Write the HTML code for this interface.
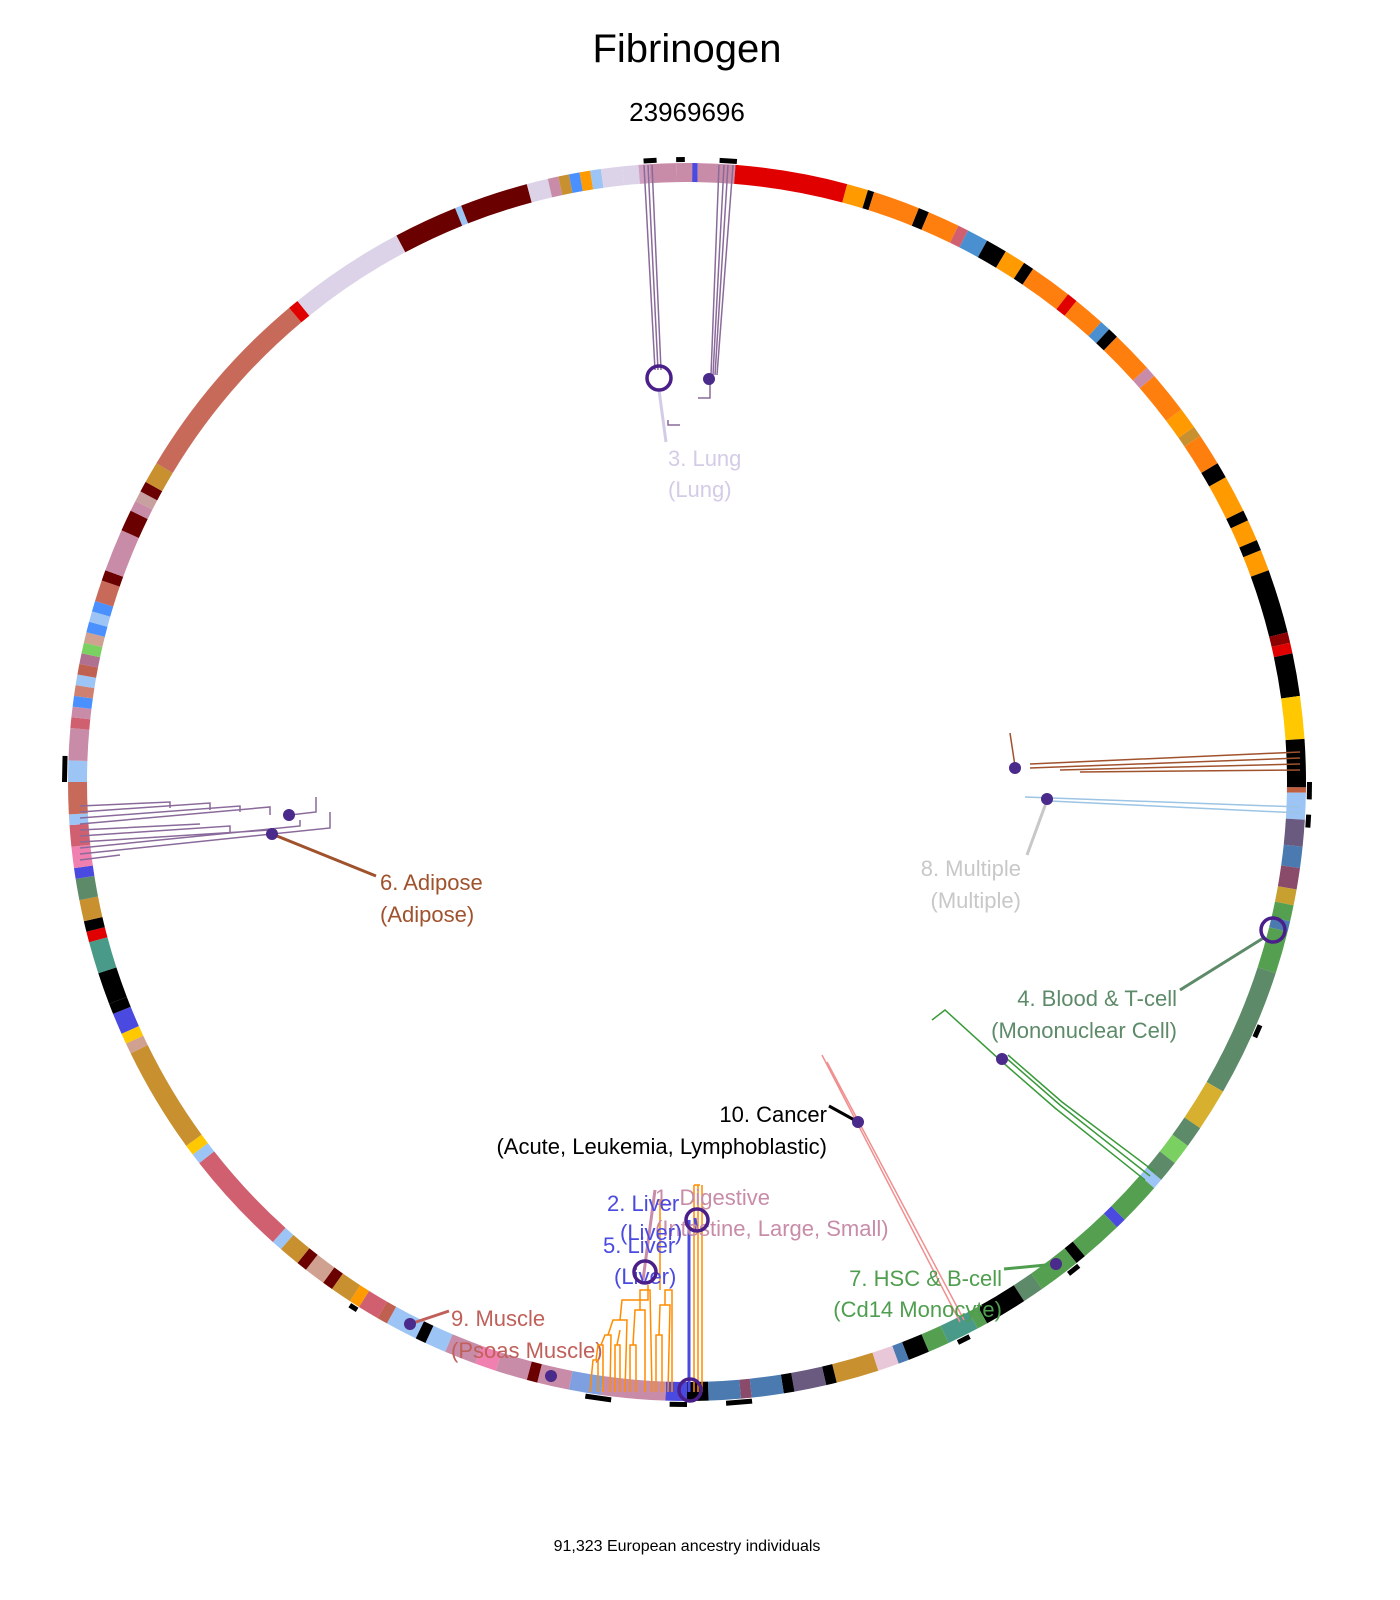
<!DOCTYPE html>
<html><head><meta charset="utf-8">
<style>
html,body{margin:0;padding:0;background:#fff;}
svg{display:block;}
text{font-family:"Liberation Sans",sans-serif;}
</style></head>
<body>
<svg id="s" width="1400" height="1600" viewBox="0 0 1400 1600" xmlns="http://www.w3.org/2000/svg">
<rect width="1400" height="1600" fill="#fff"/>
<text x="687" y="62" font-size="40" text-anchor="middle">Fibrinogen</text>
<text x="687" y="121" font-size="26" text-anchor="middle">23969696</text>
<text x="687" y="1551" font-size="16" text-anchor="middle">91,323 European ancestry individuals</text>
<g id="ring"></g>

<!-- Lung tree -->
<g fill="none" stroke="#8a6a9a" stroke-width="1.5">
<path d="M644 165 L655 370 M648 165 L658 370 M652 165 L661 370"/>
<path d="M719 165 L711 375 M724 165 L713 375 M728 165 L715 375 M733 165 L717 375 M710 380 L710 398 L698 398"/>
</g>
<line x1="659" y1="390" x2="666" y2="442" stroke="#d4cce6" stroke-width="3"/>
<path d="M668 420 L668 425 L680 425" stroke="#8a6a9a" fill="none" stroke-width="1.5"/>
<circle cx="659" cy="378" r="12" fill="none" stroke="#4a1f8a" stroke-width="3.5"/>
<circle cx="709" cy="379" r="6" fill="#4a2a8a"/>
<text x="668" y="466" font-size="22" fill="#d4cce6">3. Lung</text>
<text x="668" y="497" font-size="22" fill="#d4cce6">(Lung)</text>

<!-- Right brown -->
<g fill="none" stroke="#a0522d" stroke-width="1.5">
<path d="M1300 752 L1030 764 M1300 758 L1030 768 M1300 764 L1060 770 M1300 770 L1080 772 M1010 733 L1015 766"/>
</g>
<circle cx="1015" cy="768" r="6" fill="#4a2a8a"/>
<g fill="none" stroke="#9cc4e4" stroke-width="1.5">
<path d="M1300 807 L1025 797 M1300 813 L1050 801"/>
</g>
<line x1="1046" y1="803" x2="1027" y2="855" stroke="#c8c8c8" stroke-width="3"/>
<circle cx="1047" cy="799" r="6" fill="#4a2a8a"/>
<text x="1021" y="876" font-size="22" fill="#c8c8c8" text-anchor="end">8. Multiple</text>
<text x="1021" y="908" font-size="22" fill="#c8c8c8" text-anchor="end">(Multiple)</text>

<!-- Blood -->
<line x1="1265" y1="937" x2="1180" y2="990" stroke="#5d8a68" stroke-width="3"/>
<circle cx="1273" cy="930" r="12" fill="none" stroke="#4a1f8a" stroke-width="3.5"/>
<text x="1177" y="1006" font-size="22" fill="#5d8a68" text-anchor="end">4. Blood &amp; T-cell</text>
<text x="1177" y="1038" font-size="22" fill="#5d8a68" text-anchor="end">(Mononuclear Cell)</text>
<g fill="none" stroke="#3a9a3a" stroke-width="1.5">
<path d="M1145 1180 L1055 1108 L1000 1060 L945 1010 L932 1020 M1150 1176 L1060 1105 L1005 1057 M1155 1172 L1062 1102 L1008 1055"/>
</g>
<circle cx="1002" cy="1059" r="6" fill="#4a2a8a"/>
<g fill="none" stroke="#f09090" stroke-width="1.5">
<path d="M822 1055 L960 1322 M827 1062 L964 1320"/>
</g>
<line x1="829" y1="1106" x2="858" y2="1122" stroke="#000" stroke-width="3"/>
<circle cx="858" cy="1122" r="6" fill="#4a2a8a"/>
<text x="827" y="1122" font-size="22" text-anchor="end">10. Cancer</text>
<text x="827" y="1154" font-size="22" text-anchor="end">(Acute, Leukemia, Lymphoblastic)</text>

<!-- HSC -->
<line x1="1004" y1="1269" x2="1056" y2="1264" stroke="#4f9e4f" stroke-width="3"/>
<circle cx="1056" cy="1264" r="6" fill="#4a2a8a"/>
<text x="1002" y="1286" font-size="22" fill="#4f9e4f" text-anchor="end">7. HSC &amp; B-cell</text>
<text x="1002" y="1317" font-size="22" fill="#4f9e4f" text-anchor="end">(Cd14 Monocyte)</text>

<!-- Adipose left -->
<g fill="none" stroke="#8a6a9a" stroke-width="1.5">
<path d="M80 806 L170 802 L170 808 M80 812 L210 803 L210 810 M80 818 L240 806 L240 812 M80 824 L270 807 L270 815 M80 830 L200 824 M80 836 L230 826 L230 833 M80 842 L270 830 M80 848 L300 826 L300 820 M80 854 L330 828 L330 812 M80 860 L120 855 M290 815 L316 812 L316 797"/>
</g>
<line x1="272" y1="834" x2="376" y2="876" stroke="#a0522d" stroke-width="3"/>
<circle cx="289" cy="815" r="6" fill="#4a2a8a"/>
<circle cx="272" cy="834" r="6" fill="#4a2a8a"/>
<text x="380" y="890" font-size="22" fill="#a0522d">6. Adipose</text>
<text x="380" y="922" font-size="22" fill="#a0522d">(Adipose)</text>

<!-- Muscle -->
<line x1="410" y1="1324" x2="449" y2="1311" stroke="#c0605a" stroke-width="3"/>
<circle cx="410" cy="1324" r="6" fill="#4a2a8a"/>
<text x="451" y="1326" font-size="22" fill="#c0605a">9. Muscle</text>
<text x="451" y="1358" font-size="22" fill="#c0605a">(Psoas Muscle)</text>
<circle cx="551" cy="1376" r="6" fill="#4a2a8a"/>

<!-- Bottom orange tree -->
<g fill="none" stroke="#ff8c00" stroke-width="1.5">
<path d="M590 1392 L593 1360 L598 1360 L598 1392 M596 1360 L598 1345 L603 1345 L603 1392 M601 1345 L605 1335 L611 1335 L610 1392 M608 1335 L613 1320 L627 1320 L625 1392 M615 1392 L615 1345 L620 1345 L620 1392 M617 1345 L620 1330 M630 1392 L630 1345 L636 1345 L636 1392 M633 1345 L635 1310 L645 1310 L645 1392 M640 1310 L640 1290 L650 1290 L652 1392 M620 1320 L622 1300 L648 1300 L648 1285 M656 1392 L656 1335 L662 1335 L662 1392 M659 1335 L660 1305 L670 1305 L668 1392 M665 1305 L665 1290 L672 1290 L672 1392 M660 1290 L660 1200 L665 1200 M694 1185 L694 1392 M698 1185 L698 1392 M702 1185 L702 1392 M694 1185 L700 1185"/>
</g>
<line x1="689" y1="1220" x2="689" y2="1392" stroke="#4a4ae0" stroke-width="3"/>
<line x1="695" y1="1218" x2="697" y2="1232" stroke="#4a4ae0" stroke-width="3"/>
<line x1="655" y1="1190" x2="643" y2="1280" stroke="#c88ca8" stroke-width="3"/>
<text x="655" y="1205" font-size="22" fill="#c88ca8">1. Digestive</text>
<text x="655" y="1236" font-size="22" fill="#c88ca8">(Intestine, Large, Small)</text>
<text x="607" y="1211" font-size="22" fill="#4a4ae0">2. Liver</text>
<text x="620" y="1240" font-size="22" fill="#4a4ae0">(Liver)</text>
<text x="603" y="1253" font-size="22" fill="#4a4ae0">5. Liver</text>
<text x="614" y="1284" font-size="22" fill="#4a4ae0">(Liver)</text>
<circle cx="697" cy="1220" r="11" fill="none" stroke="#4a1f8a" stroke-width="3.5"/>
<circle cx="645" cy="1272" r="11" fill="none" stroke="#4a1f8a" stroke-width="3.5"/>
<circle cx="690" cy="1390" r="11" fill="none" stroke="#4a1f8a" stroke-width="3.5"/>
</svg>
<script>
(function(){
var cx=687,cy=782,r1=600,r2=619;
var segs=[
[-6,-4.5,"#dcd3e8"],[-4.5,-3.5,"#d0a0c0"],[-3.5,-1,"#c88ca8"],[-1,0.8,"#c88ca8"],[0.5,1,"#4a4ae0"],[1,4.5,"#c88ca8"],
[4.5,15,"#e00000"],[15,17,"#ff9a00"],[17,17.6,"#000"],[17.6,22,"#ff7f0e"],[22,23,"#000"],[23,26,"#ff7f0e"],[26,27,"#d06070"],[27,29,"#4a90d0"],
[29,31,"#000"],[31,33,"#ff9a00"],[33,34,"#000"],[34,38,"#ff7f0e"],[38,39,"#e00000"],[39,42,"#ff7f0e"],[42,43,"#4a90d0"],[43,44,"#000"],
[44,48,"#ff7f0e"],[48,49,"#c88ca8"],[49,53,"#ff7f0e"],[53,55,"#ff9a00"],[55,56,"#c8902f"],[56,59,"#ff7f0e"],[59,60.5,"#000"],[60.5,64,"#ff9a00"],
[64,65,"#000"],[65,67,"#ff9a00"],[67,68,"#000"],[68,70,"#ff9a00"],[70,76,"#000"],[76,77,"#8b0000"],[77,78,"#e00000"],[78,82,"#000"],
[82,86,"#ffc800"],[86,90.5,"#000"],[90.5,91,"#c06040"],[91,93.5,"#9cc4f4"],[93.5,96,"#6a5a80"],[96,98,"#4a7ab0"],[98,100,"#8a4a6a"],
[100,101.5,"#c8a030"],[101.5,103,"#55a050"],[103,104,"#4a7ab0"],[104,108,"#55a050"],[108,120,"#5d8a68"],[120,124,"#d8b030"],
[124,126,"#5d8a68"],[126,128,"#7ad060"],[128,130,"#5d8a68"],[130,131,"#9cc4f4"],[131,135,"#55a050"],[135,136,"#4a4ae0"],[136,140,"#55a050"],
[140,141,"#000"],[141,145,"#55a050"],[145,147,"#5d8a68"],[147,151,"#000"],[151,152,"#55a050"],[152,155,"#4a9a8a"],[155,157,"#55a050"],[157,159,"#000"],
[159,160,"#4a7ab0"],[160,162,"#e8c8d8"],[162,166,"#c8902f"],[166,167,"#000"],[167,170,"#6a5a80"],[170,171,"#000"],[171,174,"#4a7ab0"],[174,175,"#8a4a6a"],
[175,178,"#4a7ab0"],[178,180,"#000"],[180,182,"#4a4ae0"],[182,188,"#c88ca8"],[188,191,"#7fa0e0"],[191,194,"#c88ca8"],[194,195,"#6b0000"],[195,198,"#c88ca8"],
[198,200,"#f080b0"],[200,203,"#c88ca8"],[203,205,"#9cc4f4"],[205,206,"#000"],[206,209,"#9cc4f4"],[209,210,"#c06050"],[210,212,"#d06070"],
[212,213,"#ff9a00"],[213,215,"#c8902f"],[215,216,"#6b0000"],[216,218,"#d0a090"],[218,219,"#6b0000"],[219,221,"#c8902f"],[221,222,"#9cc4f4"],
[222,232,"#d06070"],[232,233,"#9cc4f4"],[233,234,"#ffc800"],[234,244,"#c8902f"],[244,245,"#d0a090"],[245,246,"#ffc800"],[246,248,"#4a4ae0"],[248,249,"#000"],
[249,252,"#000"],[252,255,"#4a9a8a"],[255,256,"#e00000"],[256,257,"#000"],[257,259,"#c8902f"],[259,261,"#5d8a68"],[261,262,"#4a4ae0"],[262,264,"#f080b0"],
[264,266,"#d06070"],[266,267,"#9cc4f4"],[267,270,"#c86a5a"],[270,272,"#9cc4f4"],[272,275,"#c88ca8"],[275,276,"#d06070"],[276,277,"#c88ca8"],
[277,278,"#4a90ff"],[278,279,"#d08070"],[279,280,"#9cc4f4"],[280,281,"#c06050"],[281,282,"#b07090"],[282,283,"#7ad060"],[283,284,"#d0a090"],
[284,285,"#4a90ff"],[285,286,"#9cc4f4"],[286,287,"#4a90ff"],[287,289,"#c86a5a"],[289,290,"#6b0000"],[290,294,"#c88ca8"],[294,296,"#6b0000"],
[296,297,"#c88ca8"],[297,298,"#c8a0a0"],[298,299,"#6b0000"],[299,301,"#c8902f"],[301,320,"#c86a5a"],[320,321,"#e00000"],[321,332,"#dcd3e8"],
[332,338,"#6b0000"],[338,338.6,"#9cc4f4"],[338.6,345,"#6b0000"],[345,347,"#dcd3e8"],[347,348,"#c88ca8"],[348,349,"#c8902f"],[349,350,"#4a90ff"],[350,351,"#ff9a00"],[351,352,"#9cc4f4"],[352,354,"#dcd3e8"]
];
function pt(a,r){var t=a*Math.PI/180;return [cx+r*Math.sin(t),cy-r*Math.cos(t)];}
var g=document.getElementById("ring"),h="";
segs.forEach(function(s){
 var a=pt(s[0],r2),b=pt(s[1],r2),c=pt(s[1],r1),d=pt(s[0],r1);
 var lg=(s[1]-s[0])>180?1:0;
 h+='<path fill="'+s[2]+'" d="M'+a[0]+' '+a[1]+' A'+r2+' '+r2+' 0 '+lg+' 1 '+b[0]+' '+b[1]+' L'+c[0]+' '+c[1]+' A'+r1+' '+r1+' 0 '+lg+' 0 '+d[0]+' '+d[1]+'Z"/>';
});
// outer ticks
var ticks=[[-4,3],[3,4],[90,4],[93,3],[113,3],[141,3],[153,3],[174,6],[180,4],[187,6],[212,2],[270,6],[-1,2]];
ticks.forEach(function(t){var a=pt(t[0],r2),b=pt(t[0]+t[1]*0.3,r2+7);
 for(var k=0;k<3;k++){}
 var p1=pt(t[0],r2+1),p2=pt(t[0]+t[1]*0.4,r2+1),p3=pt(t[0]+t[1]*0.4,r2+6),p4=pt(t[0],r2+6);
 h+='<path fill="#000" d="M'+p1+' L'+p2+' L'+p3+' L'+p4+'Z"/>';});
g.innerHTML=h;
})();
</script>
</body></html>
